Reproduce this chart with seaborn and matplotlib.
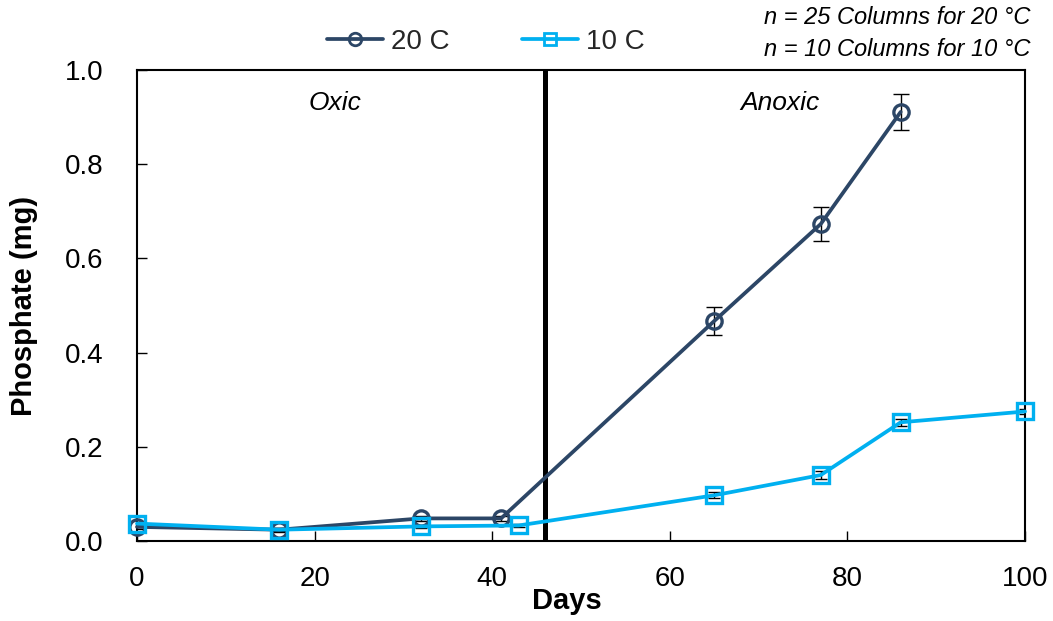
import matplotlib
matplotlib.use("Agg")
import matplotlib.pyplot as plt
import seaborn as sns
import pandas as pd
from matplotlib.lines import Line2D

days_20 = [0, 16, 32, 41, 65, 77, 86]
phos_20 = [0.030, 0.024, 0.048, 0.048, 0.467, 0.673, 0.911]
err_20 = [0.004, 0.003, 0.005, 0.005, 0.030, 0.037, 0.038]

days_10 = [0, 16, 32, 43, 65, 77, 86, 100]
phos_10 = [0.037, 0.024, 0.031, 0.033, 0.097, 0.140, 0.252, 0.275]
err_10 = [0.004, 0.004, 0.004, 0.004, 0.006, 0.008, 0.008, 0.006]

series_labels = ["20 C", "10 C"]
phase_labels = ["Oxic", "Anoxic"]
switch_day = 46
note_lines = ["n = 25 Columns for 20 °C", "n = 10 Columns for 10 °C"]

navy = "#2C4666"
cyan = "#00B0F0"

sns.set_theme(style="white")
plt.rcParams['font.family'] = ['Liberation Sans', 'DejaVu Sans']

fig = plt.figure(figsize=(10.53, 6.21), dpi=100)
ax = fig.add_axes([137/1053, 1-541/621, 888/1053, 471/621])

df20 = pd.DataFrame({"Days": days_20, "P": phos_20})
df10 = pd.DataFrame({"Days": days_10, "P": phos_10})

ax.axvline(switch_day, color="black", lw=3.6, zorder=1)

ax.errorbar(days_20, phos_20, yerr=err_20, fmt="none", ecolor="black",
            elinewidth=1.0, capsize=6, capthick=1.0, zorder=2)
ax.errorbar(days_10, phos_10, yerr=err_10, fmt="none", ecolor="black",
            elinewidth=1.0, capsize=4, capthick=1.0, zorder=2)

sns.lineplot(data=df20, x="Days", y="P", ax=ax, color=navy, lw=2.7,
             marker="o", markersize=11, markerfacecolor="none",
             markeredgecolor=navy, markeredgewidth=2.4, clip_on=False, zorder=3)
sns.lineplot(data=df10, x="Days", y="P", ax=ax, color=cyan, lw=2.7,
             marker="s", markersize=11, markerfacecolor="none",
             markeredgecolor=cyan, markeredgewidth=2.4, clip_on=False, zorder=4)

ax.set_xlim(0, 100)
ax.set_ylim(0, 1.0)
ax.set_xticks([0, 20, 40, 60, 80, 100])
ax.set_yticks([0.0, 0.2, 0.4, 0.6, 0.8, 1.0])
ax.set_yticklabels([f"{v:.1f}" for v in [0.0, 0.2, 0.4, 0.6, 0.8, 1.0]])
ax.tick_params(direction="in", length=7, width=1.0, colors="black",
               labelsize=20, bottom=True, left=True)
ax.tick_params(axis="x", pad=18)
ax.tick_params(axis="y", pad=24)
for s in ax.spines.values():
    s.set_color("black")
    s.set_linewidth(1.5)

ax.set_xlabel("Days", fontsize=21, fontweight="bold", color="black")
ax.set_ylabel("Phosphate (mg)", fontsize=21, fontweight="bold", color="black")
ax.xaxis.set_label_coords(0.484, -0.098)
ax.yaxis.set_label_coords(-0.111, 0.5)

ax.text(22.3, 0.93, phase_labels[0], fontsize=19, style="italic",
        ha="center", va="center", color="black")
ax.text(72.4, 0.93, phase_labels[1], fontsize=19, style="italic",
        ha="center", va="center", color="black")

handles = [
    Line2D([0], [0], color=navy, lw=2.7, marker="o", markersize=9,
           markerfacecolor="none", markeredgecolor=navy, markeredgewidth=2.0),
    Line2D([0], [0], color=cyan, lw=2.7, marker="s", markersize=9,
           markerfacecolor="none", markeredgecolor=cyan, markeredgewidth=2.0),
]
fig.legend(handles, series_labels, loc="center", ncol=2,
           bbox_to_anchor=(486/1053, 1-42/621), frameon=False,
           fontsize=20, handlelength=2.0, handletextpad=0.3, columnspacing=2.6)

fig.text(1030/1053, 1-18/621, note_lines[0], fontsize=17, style="italic",
         ha="right", va="center", color="black")
fig.text(1030/1053, 1-50/621, note_lines[1], fontsize=17, style="italic",
         ha="right", va="center", color="black")

fig.savefig("out.png", dpi=100)
